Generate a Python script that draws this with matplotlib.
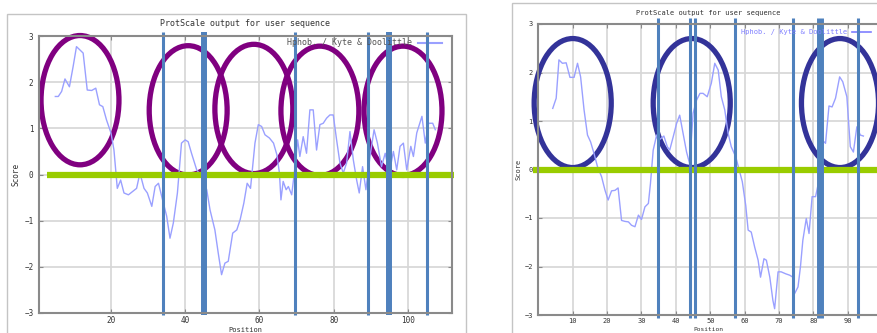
import matplotlib
matplotlib.use("Agg")
import matplotlib.pyplot as plt
from matplotlib.patches import Ellipse, Rectangle

# left profile (Kyte & Doolittle)
left_pos = [5, 5.8, 6.7, 7.6, 8.8, 9.8, 10.7, 11.6, 12.5, 13.6, 14.8, 15.9, 16.9, 17.8,
            18.8, 20, 20.8, 21.7, 22.6, 23.5, 24.7, 25.8, 26.9, 27.8, 28.9, 29.8, 31,
            31.9, 32.8, 33.9, 35, 35.9, 36.8, 37.9, 39, 40, 40.8, 41.7, 43.1, 44.4, 45.8,
            46.7, 48, 48.9, 49.8, 50.7, 51.6, 52.8, 53.9, 54.8, 55.8, 56.7, 57.6, 58.8,
            59.7, 60.6, 61.5, 62.7, 63.8, 64.7, 65.4, 65.8, 66.4, 67.2, 67.8, 68.7, 69.6,
            70.3, 70.9, 71.8, 72.7, 73.6, 74.5, 75.4, 76.3, 77.2, 78.1, 79, 79.9, 80.8,
            81.7, 82.6, 83.5, 84.4, 85.3, 86.2, 86.9, 87.8, 88.7, 89.8, 90.9, 91.8, 92.9,
            93.9, 95, 96.1, 97, 97.9, 98.8, 99.7, 100.8, 101.5, 102.4, 103.8, 104.7,
            105.6, 106.7, 107.4]
left_score = [1.69, 1.69, 1.8, 2.07, 1.9, 2.34, 2.77, 2.7, 2.63, 1.83, 1.82, 1.87, 1.51,
              1.47, 1.18, 0.9, 0.53, -0.3, -0.12, -0.4, -0.44, -0.37, -0.3, 0.03, -0.3,
              -0.4, -0.69, -0.26, -0.19, -0.55, -0.9, -1.38, -1.05, -0.4, 0.68, 0.75,
              0.71, 0.46, 0.1, -0.04, -0.33, -0.77, -1.2, -1.7, -2.17, -1.92, -1.88,
              -1.27, -1.2, -0.98, -0.62, -0.19, -0.3, 0.68, 1.08, 1.04, 0.86, 0.79, 0.68,
              0.43, 0.03, -0.55, -0.15, -0.33, -0.26, -0.44, 0.17, 0.75, 0.39, 0.82,
              0.46, 1.4, 1.4, 0.53, 1.08, 1.11, 1.22, 1.29, 1.29, 0.75, 0.25, 0.03, 0.25,
              0.93, 0.32, -0.12, -0.4, 0.17, -0.33, 0.39, 0.97, 0.68, 0.17, 0.46, 0.03,
              0.5, 0.1, 0.61, 0.68, 0.1, 0.61, 0.39, 0.9, 1.26, 0.68, 1.11, 1.11, 0.97]

# right profile
right_pos = [4.2, 5.2, 6, 7, 8.1, 9.2, 10.4, 11.4, 12.3, 13.3, 14.3, 15.2, 16.2, 17.2,
             18.4, 19.4, 20.3, 21.3, 22.3, 23.2, 24.2, 25.2, 26.2, 27.1, 28.1, 29.1, 30,
             31, 32, 32.6, 33.4, 34.4, 35.3, 36.5, 37.5, 38.2, 39.2, 40.2, 41.1, 42.1,
             43.1, 44, 45, 46, 47, 47.9, 49.1, 50.3, 51.3, 52.3, 53.2, 54.2, 55.2, 56.1,
             57.4, 58.4, 59.3, 60.3, 61, 61.9, 62.9, 63.9, 64.6, 65.6, 66.3, 67.3, 68.2,
             68.7, 69.7, 70.6, 71.9, 73.1, 74, 74.5, 75.5, 76.2, 76.9, 77.9, 78.7, 79.6,
             80.6, 81.6, 82.5, 83.5, 84.5, 85.4, 86.4, 87.6, 88.5, 89.7, 90.7, 91.6, 92.6,
             93.6, 94.5]
right_score = [1.26, 1.47, 2.26, 2.19, 2.2, 1.9, 1.9, 2.19, 1.91, 1.23, 0.71, 0.57, 0.33,
               0.06, -0.15, -0.43, -0.63, -0.44, -0.43, -0.38, -1.05, -1.07, -1.08,
               -1.15, -1.18, -0.94, -1.03, -0.77, -0.7, -0.29, 0.4, 0.71, 0.62, 0.69,
               0.47, 0.4, 0.67, 0.95, 1.12, 0.74, 0.36, 0.12, 1.16, 1.43, 1.57, 1.57, 1.5,
               1.78, 2.19, 2.05, 1.5, 1.23, 0.74, 0.47, 0.26, -0.01, -0.25, -0.74, -1.25,
               -1.29, -1.6, -1.87, -2.22, -1.84, -1.87, -2.22, -2.7, -2.87, -2.11, -2.11,
               -2.15, -2.18, -2.22, -2.56, -2.42, -2.01, -1.46, -1.01, -1.32, -0.56,
               -0.56, -0.22, 0.61, 0.54, 1.31, 1.29, 1.47, 1.91, 1.81, 1.5, 0.47, 0.36,
               0.88, 0.71, 0.69]

# annotation marks (positions in data units)
left_circles = [(11.65, 1.61), (40.8, 1.39), (58.5, 1.42), (76.3, 1.38), (98.7, 1.38)]
left_bars = [33.9, 45.1, 69.7, 89.2, 94.8, 105.2]
left_bar_w = [2.2, 4.3, 2.2, 2.2, 4.3, 2.2]
right_circles = [(10.0, 1.37), (44.6, 1.37), (87.7, 1.37)]
right_bars = [34.8, 44.1, 45.6, 57.2, 74.0, 81.9, 93.0]
right_bar_w = [2.2, 2.2, 2.2, 2.2, 2.2, 5.0, 2.2]

title = "ProtScale output for user sequence"
legend_txt = "Hphob. / Kyte & Doolittle"
mono = "DejaVu Sans Mono"
line_col = "#9aa0ff"

fig = plt.figure(figsize=(8.78, 3.33), dpi=100)
fig.patches.append(Rectangle((7 / 878, -0.1), 459 / 878, 0.1 + 319 / 333,
                             transform=fig.transFigure, fill=False, ec="#c4c4c4", lw=1))
fig.patches.append(Rectangle((512 / 878, -0.1), 0.5, 0.1 + 330 / 333,
                             transform=fig.transFigure, fill=False, ec="#c4c4c4", lw=1))

ax1 = fig.add_axes([39 / 878, 20 / 333, 413 / 878, 277 / 333])
ax2 = fig.add_axes([538.3 / 878, 18 / 333, 344 / 878, 291 / 333])


def style(ax, xt, fs):
    ax.set_ylim(-3, 3)
    ax.set_xticks(xt)
    ax.set_yticks(range(-3, 4))
    ax.grid(True, color="#d6d6d6", lw=1.2)
    ax.set_axisbelow(True)
    for s in ax.spines.values():
        s.set_color("#8a8a8a")
        s.set_linewidth(1.5)
    ax.tick_params(direction="in", length=3, color="#8a8a8a", labelsize=fs,
                   labelcolor="#333333", pad=4, right=True, top=True)
    ax.tick_params(axis="x", pad=2)
    for lab in ax.get_xticklabels() + ax.get_yticklabels():
        lab.set_family(mono)


# left chart
ax1.plot(left_pos, left_score, color=line_col, lw=1)
ax1.set_xlim(0.6, 111.9)
style(ax1, [20, 40, 60, 80, 100], 5.5)
ax1.set_title(title, family=mono, fontsize=6, color="#333333", pad=7)
ax1.text(-0.055, 0.5, "Score", transform=ax1.transAxes, rotation=90, family=mono,
         fontsize=5.5, ha="center", va="center", color="#333333")
ax1.text(0.5, -0.0704, "Position", transform=ax1.transAxes, family=mono, fontsize=5,
         ha="center", va="bottom", color="#333333")
ax1.text(101.1, 2.85, legend_txt, family=mono, fontsize=6, ha="right", va="center",
         color="#555555")
ax1.plot([102.7, 109.2], [2.85, 2.85], color=line_col, lw=1.5)
ax1.plot([2.7, 112.4], [0, 0], color="#99cc00", lw=4.5, clip_on=False,
         solid_capstyle="butt")
for cx, cy in left_circles:
    ax1.add_patch(Ellipse((cx, cy), 21, 2.8, fill=False, ec="#800080", lw=3.8,
                          clip_on=False))
for bx, bw in zip(left_bars, left_bar_w):
    ax1.plot([bx, bx], [-3.05, 3.08], color="#4f81bd", lw=bw, clip_on=False,
             solid_capstyle="butt")

# right chart
ax2.plot(right_pos, right_score, color=line_col, lw=1)
ax2.set_xlim(0, 100)
style(ax2, [10, 20, 30, 40, 50, 60, 70, 80, 90], 5)
ax2.text(0.494, 1.038, title, transform=ax2.transAxes, family=mono, fontsize=5,
         ha="center", va="center", color="#333333")
ax2.text(-0.058, 0.5, "Score", transform=ax2.transAxes, rotation=90, family=mono,
         fontsize=5, ha="center", va="center", color="#333333")
ax2.text(0.494, -0.06, "Position", transform=ax2.transAxes, family=mono, fontsize=4.5,
         ha="center", va="bottom", color="#333333")
ax2.text(89.7, 2.84, legend_txt, family=mono, fontsize=5, ha="right", va="center",
         color="#7f7fff")
ax2.plot([91.2, 96.8], [2.84, 2.84], color="#7f7fff", lw=1.2)
ax2.plot([-1.5, 105], [0, 0], color="#99cc00", lw=4.5, clip_on=False,
         solid_capstyle="butt")
for cx, cy in right_circles:
    ax2.add_patch(Ellipse((cx, cy), 22.4, 2.66, fill=False, ec="#333399", lw=3.8,
                          clip_on=False))
for bx, bw in zip(right_bars, right_bar_w):
    ax2.plot([bx, bx], [-3.06, 3.12], color="#4f81bd", lw=bw, clip_on=False,
             solid_capstyle="butt")

fig.savefig("out.png", dpi=100)
